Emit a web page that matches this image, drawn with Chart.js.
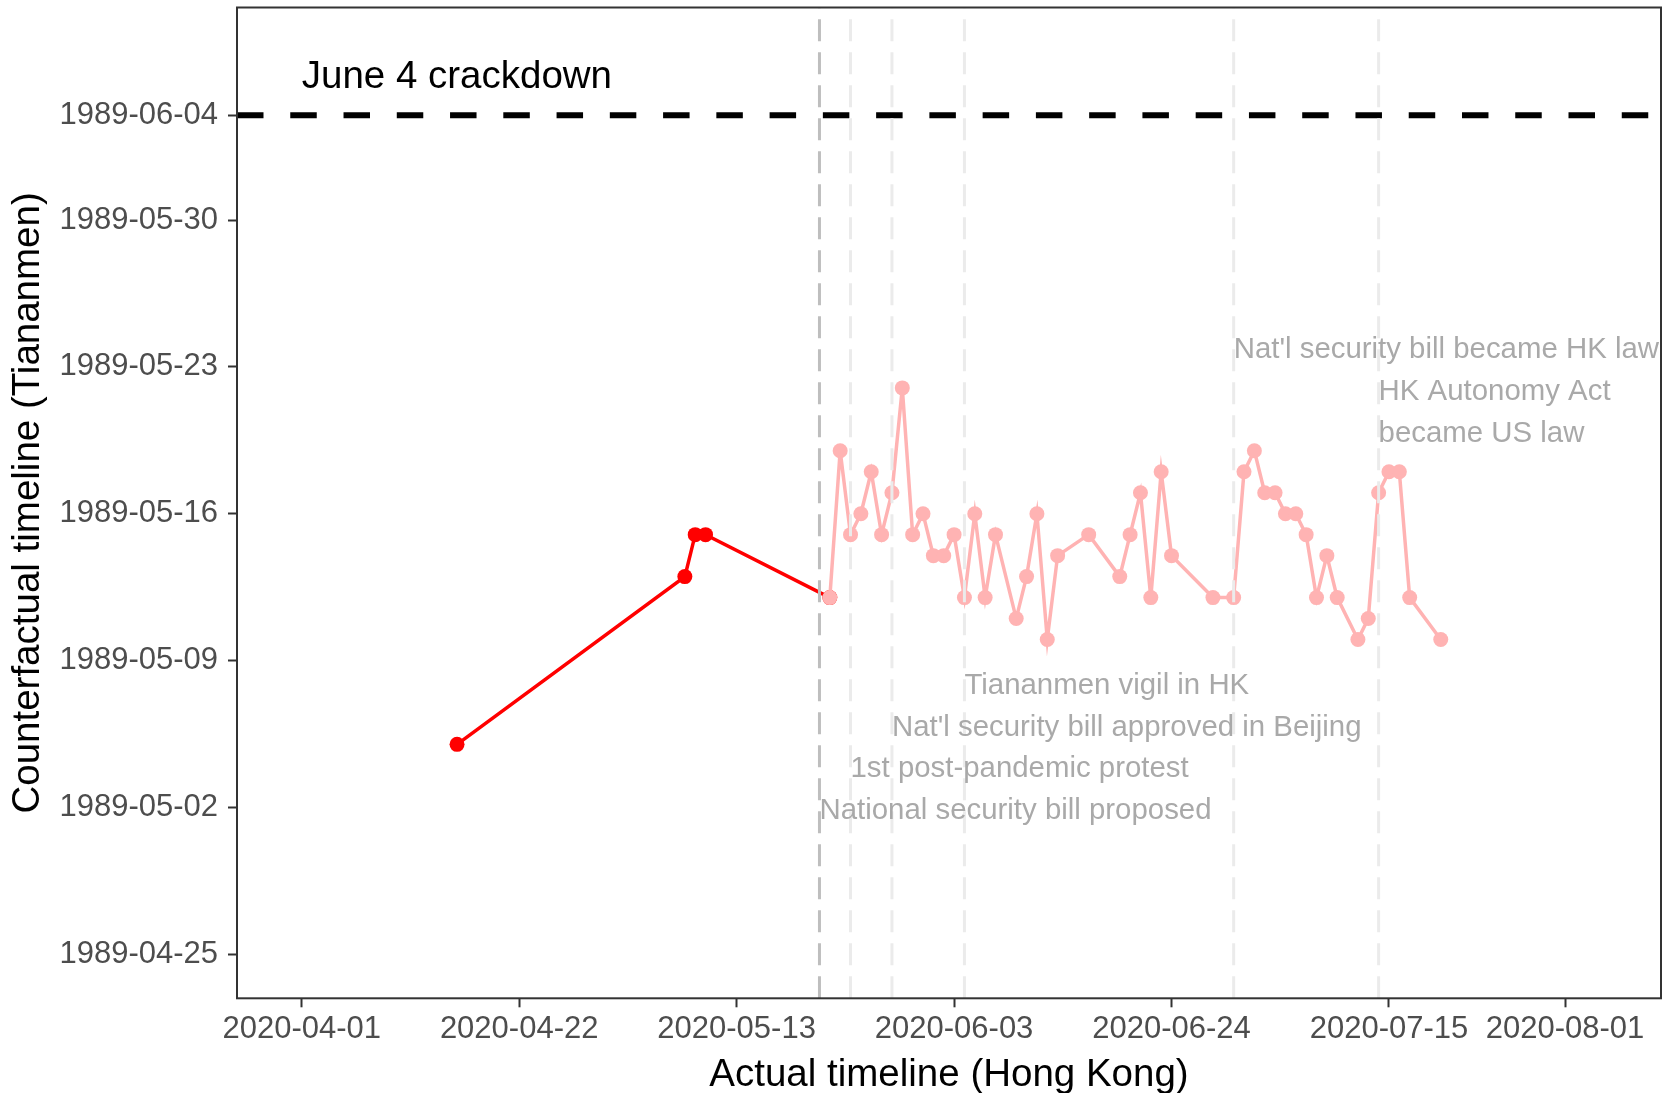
<!DOCTYPE html>
<html>
<head>
<meta charset="utf-8">
<script src="https://cdn.jsdelivr.net/npm/chart.js@4.4.1/dist/chart.umd.min.js"></script>
<style>
  body { margin: 0; background: #fff; }
  #wrap { width: 1677px; height: 1093px; }
</style>
</head>
<body>
<div id="wrap"><canvas id="chart"></canvas></div>
<script>
// Hong Kong date -> counterfactual Tiananmen date, before the bill was proposed
const hkDatesBefore = ['2020-04-16', '2020-05-08', '2020-05-09', '2020-05-10', '2020-05-22'];
const tamDatesBefore = ['1989-05-05', '1989-05-13', '1989-05-15', '1989-05-15', '1989-05-12'];

// ... and after
const hkDatesAfter = [
  '2020-05-22', '2020-05-23', '2020-05-24', '2020-05-25', '2020-05-26', '2020-05-27', '2020-05-28',
  '2020-05-29', '2020-05-30', '2020-05-31', '2020-06-01', '2020-06-02', '2020-06-03', '2020-06-04',
  '2020-06-05', '2020-06-06', '2020-06-07', '2020-06-09', '2020-06-10', '2020-06-11', '2020-06-12',
  '2020-06-13', '2020-06-16', '2020-06-19', '2020-06-20', '2020-06-21', '2020-06-22', '2020-06-23',
  '2020-06-24', '2020-06-28', '2020-06-30', '2020-07-01', '2020-07-02', '2020-07-03', '2020-07-04',
  '2020-07-05', '2020-07-06', '2020-07-07', '2020-07-08', '2020-07-09', '2020-07-10', '2020-07-12',
  '2020-07-13', '2020-07-14', '2020-07-15', '2020-07-16', '2020-07-17', '2020-07-20'
];
const tamDatesAfter = [
  '1989-05-12', '1989-05-19', '1989-05-15', '1989-05-16', '1989-05-18', '1989-05-15', '1989-05-17',
  '1989-05-22', '1989-05-15', '1989-05-16', '1989-05-14', '1989-05-14', '1989-05-15', '1989-05-12',
  '1989-05-16', '1989-05-12', '1989-05-15', '1989-05-11', '1989-05-13', '1989-05-16', '1989-05-10',
  '1989-05-14', '1989-05-15', '1989-05-13', '1989-05-15', '1989-05-17', '1989-05-12', '1989-05-18',
  '1989-05-14', '1989-05-12', '1989-05-12', '1989-05-18', '1989-05-19', '1989-05-17', '1989-05-17',
  '1989-05-16', '1989-05-16', '1989-05-15', '1989-05-12', '1989-05-14', '1989-05-12', '1989-05-10',
  '1989-05-11', '1989-05-17', '1989-05-18', '1989-05-18', '1989-05-12', '1989-05-10'
];

const xTickLabels = ['2020-04-01', '2020-04-22', '2020-05-13', '2020-06-03', '2020-06-24', '2020-07-15', '2020-08-01'];
const yTickLabels = ['1989-04-25', '1989-05-02', '1989-05-09', '1989-05-16', '1989-05-23', '1989-05-30', '1989-06-04'];

// events in Hong Kong (vertical lines) and where their labels sit on the y axis
const eventDates = ['2020-05-21', '2020-05-24', '2020-05-28', '2020-06-04', '2020-06-30', '2020-07-14'];
const eventLabels = [
  'National security bill proposed',
  '1st post-pandemic protest',
  "Nat'l security bill approved in Beijing",
  'Tiananmen vigil in HK',
  "Nat'l security bill became HK law",
  ['HK Autonomy Act', 'became US law']
];
const eventLabelY = ['1989-05-02', '1989-05-04', '1989-05-06', '1989-05-08', '1989-05-24', '1989-05-22'];

const crackdownDate = '1989-06-04';
const crackdownLabel = 'June 4 crackdown';
const crackdownLabelAt = ['2020-04-01', '1989-06-06'];

function toDay(s) {
  const p = s.split('-');
  return Date.UTC(+p[0], +p[1] - 1, +p[2]) / 86400000;
}
function fmt(v) {
  return new Date(Math.round(v) * 86400000).toISOString().slice(0, 10);
}

const FONT = '"Liberation Sans", Arial, sans-serif';
Chart.defaults.font.family = FONT;

const overlay = {
  id: 'overlay',
  afterDatasetsDraw(chart) {
    const { ctx, chartArea: a, scales: { x, y } } = chart;
    ctx.save();
    ctx.beginPath();
    ctx.rect(a.left, a.top, a.right - a.left, a.bottom - a.top);
    ctx.clip();

    // June 4 reference line
    const yc = y.getPixelForValue(toDay(crackdownDate));
    ctx.strokeStyle = '#000';
    ctx.lineWidth = 6;
    ctx.setLineDash([26.5, 26.76]);
    ctx.beginPath();
    ctx.moveTo(a.left, yc);
    ctx.lineTo(a.right, yc);
    ctx.stroke();

    // event lines
    ctx.lineWidth = 3;
    ctx.setLineDash([22, 11]);
    eventDates.forEach((d, i) => {
      const px = x.getPixelForValue(toDay(d));
      ctx.strokeStyle = i === 0 ? '#BEBEBE' : '#EBEBEB';
      ctx.beginPath();
      ctx.moveTo(px, a.bottom);
      ctx.lineTo(px, a.top);
      ctx.stroke();
    });
    ctx.setLineDash([]);

    // event labels (text nudged 4px to centre the glyphs like the original)
    ctx.font = '29.4px ' + FONT;
    ctx.fillStyle = '#A9A9A9';
    ctx.textAlign = 'left';
    ctx.textBaseline = 'middle';
    eventLabels.forEach((t, i) => {
      const px = x.getPixelForValue(toDay(eventDates[i]));
      const py = y.getPixelForValue(toDay(eventLabelY[i])) + 4;
      [].concat(t).forEach((line, k) => ctx.fillText(line, px, py + k * 41.7));
    });

    ctx.font = '38.5px ' + FONT;
    ctx.fillStyle = '#000';
    ctx.fillText(crackdownLabel,
      x.getPixelForValue(toDay(crackdownLabelAt[0])),
      y.getPixelForValue(toDay(crackdownLabelAt[1])) + 4);
    ctx.restore();

    // panel border
    ctx.save();
    ctx.strokeStyle = '#333333';
    ctx.lineWidth = 2;
    ctx.strokeRect(a.left, a.top, a.right - a.left, a.bottom - a.top);
    ctx.restore();
  }
};

new Chart(document.getElementById('chart'), {
  type: 'line',
  data: {
    datasets: [
      {
        label: 'after',
        data: hkDatesAfter.map((d, i) => ({ x: toDay(d), y: toDay(tamDatesAfter[i]) })),
        borderColor: '#FFB3B3',
        backgroundColor: '#FFB3B3',
        borderWidth: 3.5,
        pointRadius: 7.5,
        pointHoverRadius: 7.5,
        pointBorderWidth: 0,
        tension: 0,
        order: 1
      },
      {
        label: 'before',
        data: hkDatesBefore.map((d, i) => ({ x: toDay(d), y: toDay(tamDatesBefore[i]) })),
        borderColor: '#FF0000',
        backgroundColor: '#FF0000',
        borderWidth: 3.5,
        pointRadius: 7.5,
        pointHoverRadius: 7.5,
        pointBorderWidth: 0,
        tension: 0,
        order: 2
      }
    ]
  },
  options: {
    responsive: true,
    maintainAspectRatio: false,
    animation: false,
    layout: { padding: { top: 7.5, right: 16, left: 0, bottom: 0 } },
    plugins: { legend: { display: false }, tooltip: { enabled: false } },
    scales: {
      x: {
        type: 'linear',
        min: toDay('2020-04-01') - 6.25,
        max: toDay('2020-04-01') + 131.27,
        afterBuildTicks: s => { s.ticks = xTickLabels.map(d => ({ value: toDay(d) })); },
        afterFit: s => { s.height = 94.7; s.paddingLeft = 0; s.paddingRight = 0; },
        ticks: {
          callback: v => fmt(v),
          autoSkip: false,
          maxRotation: 0,
          color: '#4D4D4D',
          font: { size: 31 },
          padding: 4
        },
        grid: { drawOnChartArea: false, drawTicks: true, tickLength: 9, tickWidth: 2, tickColor: '#333333' },
        border: { display: false },
        title: {
          display: true,
          text: 'Actual timeline (Hong Kong)',
          color: '#000',
          font: { size: 38.5, lineHeight: 0.9 },
          padding: { top: 0, bottom: 0 }
        }
      },
      y: {
        type: 'linear',
        min: toDay('1989-06-04') - 42.11,
        max: toDay('1989-06-04') + 5.14,
        afterBuildTicks: s => { s.ticks = yTickLabels.map(d => ({ value: toDay(d) })); },
        afterFit: s => { s.width = 237; s.paddingTop = 0; s.paddingBottom = 0; },
        ticks: {
          callback: v => fmt(v),
          autoSkip: false,
          color: '#4D4D4D',
          font: { size: 31 },
          padding: 10
        },
        grid: { drawOnChartArea: false, drawTicks: true, tickLength: 9, tickWidth: 2, tickColor: '#333333' },
        border: { display: false },
        title: {
          display: true,
          text: 'Counterfactual timeline (Tiananmen)',
          color: '#000',
          font: { size: 38.5 },
          padding: { top: 5, bottom: 0 }
        }
      }
    }
  },
  plugins: [overlay]
});
</script>
</body>
</html>
